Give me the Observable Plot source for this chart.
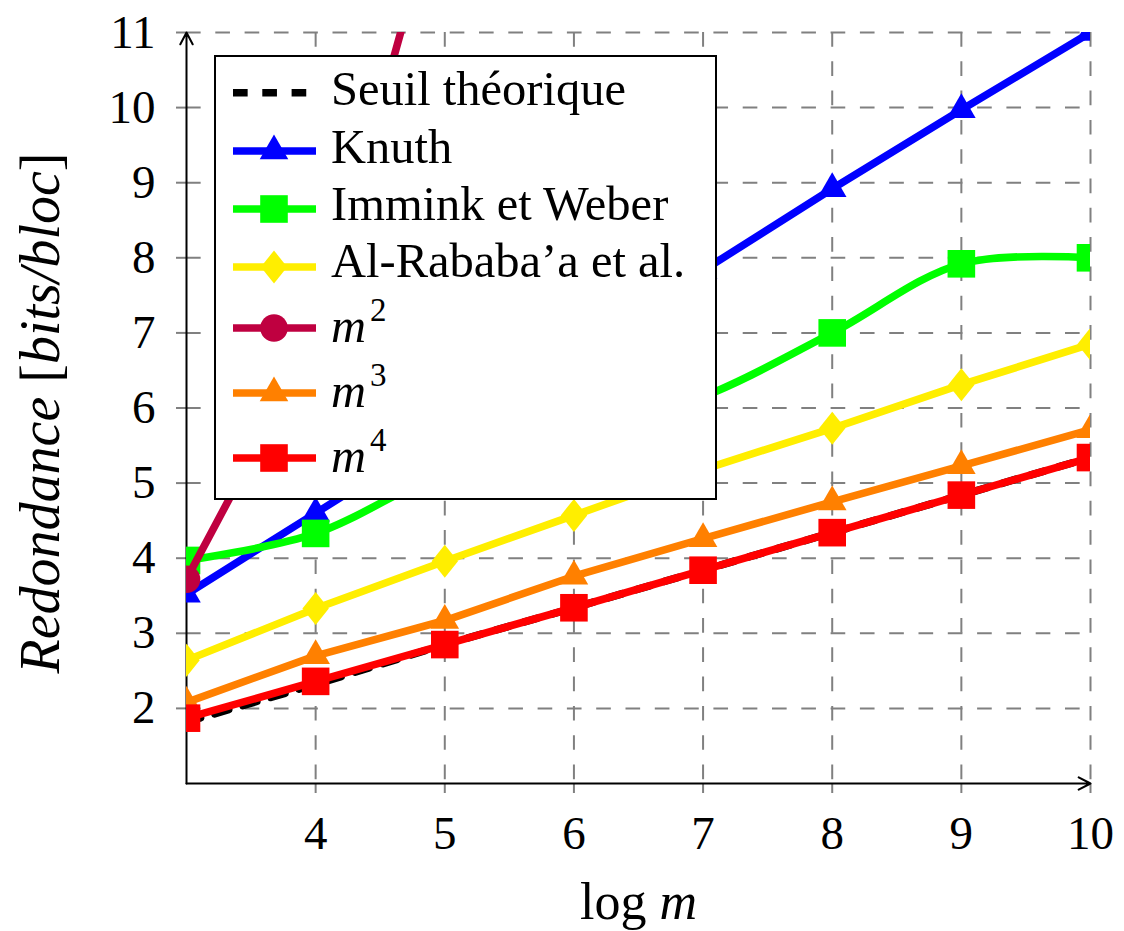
<!DOCTYPE html>
<html>
<head>
<meta charset="utf-8">
<script src="https://cdn.jsdelivr.net/npm/d3@7"></script>
<script src="https://cdn.jsdelivr.net/npm/@observablehq/plot@0.6"></script>
<style>
  body { margin: 0; background: #fff; }
  #chart { position: relative; width: 1124px; height: 931px; }
  #legend { position: absolute; left: 214px; top: 55px; }
</style>
</head>
<body>
<div id="chart"></div>
<script>
// log m on the horizontal axis
const logM = [3, 4, 5, 6, 7, 8, 9, 10];

// Redundancy (bits per block) of each scheme
const seuil  = [1.82, 2.32, 2.85, 3.34, 3.84, 4.34, 4.84, 5.34];
const knuth  = [3.52, 4.60, 5.68, 6.75, 7.83, 8.92, 9.97, 11.0];
const immink = [3.97, 4.33, 5.15, 5.65, 6.15, 7.00, 7.92, 8.00];
const rababa = [2.64, 3.33, 3.96, 4.57, 5.18, 5.73, 6.31, 6.85];
const m2     = [3.72, 6.95, 13.1];
const m3     = [2.08, 2.70, 3.17, 3.76, 4.26, 4.75, 5.23, 5.71];
const m4     = [1.87, 2.36, 2.85, 3.34, 3.84, 4.34, 4.84, 5.34];

const xTicks = [4, 5, 6, 7, 8, 9, 10];
const yTicks = [2, 3, 4, 5, 6, 7, 8, 9, 10, 11];
const xDomain = [3, 10];
const yDomain = [1, 11];

const FONT = "'Liberation Serif', 'DejaVu Serif', serif";
const LINE_W = 7.6;

// marker shapes (size = pi * r^2, as Plot passes it)
const rad = (size) => Math.sqrt(size / Math.PI);
const triangleMark = { draw(ctx, size) { const r = rad(size), h = r * Math.sqrt(3) / 2;
  ctx.moveTo(0, -r); ctx.lineTo(h, r / 2); ctx.lineTo(-h, r / 2); ctx.closePath(); } };
const squareMark = { draw(ctx, size) { const r = rad(size); ctx.rect(-r, -r, 2 * r, 2 * r); } };
const diamondMark = { draw(ctx, size) { const r = rad(size), w = 0.8 * r;
  ctx.moveTo(0, -r); ctx.lineTo(w, 0); ctx.lineTo(0, r); ctx.lineTo(-w, 0); ctx.closePath(); } };
const circleMark = { draw(ctx, size) { const r = rad(size); ctx.moveTo(r, 0); ctx.arc(0, 0, r, 0, 2 * Math.PI); } };

const series = [
  { key: "seuil",  values: seuil,  color: "#000000", dash: "14.65,14.65", symbol: null, r: 0 },
  { key: "knuth",  values: knuth,  color: "#0000ff", symbol: triangleMark, r: 16.5 },
  { key: "immink", values: immink, color: "#00ff00", symbol: squareMark,  r: 13.8, curve: "catmull-rom" },
  { key: "rababa", values: rababa, color: "#ffee00", symbol: diamondMark, r: 16.5 },
  { key: "m2",     values: m2,     color: "#bf0040", symbol: circleMark,  r: 13.8 },
  { key: "m3",     values: m3,     color: "#ff8000", symbol: triangleMark, r: 16.5 },
  { key: "m4",     values: m4,     color: "#ff0000", symbol: squareMark,  r: 13.8 }
];

const rows = (s) => s.values.map((v, i) => ({ x: logM[i], y: v }));

const gridStyle = { stroke: "#808080", strokeOpacity: 1, strokeWidth: 2, strokeDasharray: "14.65,14.65" };

const marks = [
  Plot.gridX(xTicks, gridStyle),
  Plot.gridY(yTicks, gridStyle),
  Plot.axisX(xTicks, { tickSize: 10, tickPadding: 22, stroke: "#808080", strokeWidth: 2,
    fill: "black", fontSize: 47, fontFamily: FONT, label: null, tickFormat: (d) => String(d) }),
  Plot.axisY(yTicks, { tickSize: 10, tickPadding: 21, stroke: "#808080", strokeWidth: 2,
    fill: "black", fontSize: 47, fontFamily: FONT, label: null, tickFormat: (d) => String(d) }),
  // axis lines with arrow heads
  Plot.arrow([{ x1: xDomain[0], y1: yDomain[0], x2: xDomain[1], y2: yDomain[0] },
              { x1: xDomain[0], y1: yDomain[0], x2: xDomain[0], y2: yDomain[1] }],
    { x1: "x1", y1: "y1", x2: "x2", y2: "y2", stroke: "black", strokeWidth: 2, headLength: 10, headAngle: 55 })
];

for (const s of series) {
  const data = rows(s);
  marks.push(Plot.line(data, { x: "x", y: "y", stroke: s.color, strokeWidth: LINE_W,
    strokeDasharray: s.dash, curve: s.curve || "linear", clip: true }));
  if (s.symbol) {
    marks.push(Plot.dot(data, { x: "x", y: "y", r: s.r, symbol: () => s.symbol,
      fill: s.color, stroke: "none", clip: true }));
  }
}

marks.push(
  Plot.text(["Redondance [bits/bloc]"], { text: (d) => d, frameAnchor: "left", rotate: -90,
    textAnchor: "middle", dx: -145, dy: 5, fontSize: 56, fontFamily: FONT, fill: "black" }),
  Plot.text(["log m"], { text: (d) => d, frameAnchor: "bottom", textAnchor: "middle", dy: 135,
    fontSize: 52, fontFamily: FONT, fill: "black" })
);

const chart = Plot.plot({
  width: 1124,
  height: 931,
  marginLeft: 186,
  marginRight: 34,
  marginTop: 32,
  marginBottom: 148,
  x: { domain: xDomain, axis: null },
  y: { domain: yDomain, axis: null },
  symbol: { type: "identity" },
  style: { fontFamily: FONT, fontSize: "46px", color: "black", background: "white", overflow: "visible" },
  marks
});

// mixed upright / italic axis titles
const svg = d3.select(chart);
svg.selectAll("text").filter(function () { return this.textContent === "Redondance [bits/bloc]"; })
  .each(function () {
    const t = d3.select(this).text(null);
    t.append("tspan").attr("font-style", "italic").text("Redondance ");
    t.append("tspan").text("[");
    t.append("tspan").attr("font-style", "italic").text("bits/bloc");
    t.append("tspan").text("]");
  });
svg.selectAll("text").filter(function () { return this.textContent === "log m"; })
  .each(function () {
    const t = d3.select(this).text(null);
    t.append("tspan").text("log ");
    t.append("tspan").attr("font-style", "italic").text("m");
  });

const holder = document.getElementById("chart");
holder.appendChild(chart);

// legend box
const legendLabels = [
  { name: "Seuil théorique" },
  { name: "Knuth" },
  { name: "Immink et Weber" },
  { name: "Al-Rababa’a et al." },
  { name: "m", sup: "2" },
  { name: "m", sup: "3" },
  { name: "m", sup: "4" }
];
const lineY = [37.7, 96, 154, 212, 273, 338, 403];
const baseY = [50, 108, 165, 222, 287, 352, 417];

const lg = d3.select(holder).append("svg").attr("id", "legend")
  .attr("width", 503).attr("height", 445)
  .style("font-family", FONT);
lg.append("rect").attr("x", 1).attr("y", 1).attr("width", 501).attr("height", 443)
  .attr("fill", "white").attr("stroke", "black").attr("stroke-width", 2);

series.forEach((s, i) => {
  lg.append("line").attr("x1", 19).attr("x2", 102).attr("y1", lineY[i]).attr("y2", lineY[i])
    .attr("stroke", s.color).attr("stroke-width", LINE_W)
    .attr("stroke-dasharray", s.dash || null);
  if (s.symbol) {
    lg.append("path")
      .attr("transform", `translate(60,${lineY[i]})`)
      .attr("d", d3.symbol(s.symbol, Math.PI * s.r * s.r)())
      .attr("fill", s.color);
  }
  const lab = legendLabels[i];
  const t = lg.append("text").attr("x", 117).attr("y", baseY[i]).attr("font-size", 48.5)
    .attr("fill", "black");
  if (lab.sup) {
    t.append("tspan").attr("font-style", "italic").text(lab.name);
    t.append("tspan").attr("font-size", 33).attr("dy", -21).attr("dx", 4).text(lab.sup);
  } else {
    t.text(lab.name);
  }
});
</script>
</body>
</html>
